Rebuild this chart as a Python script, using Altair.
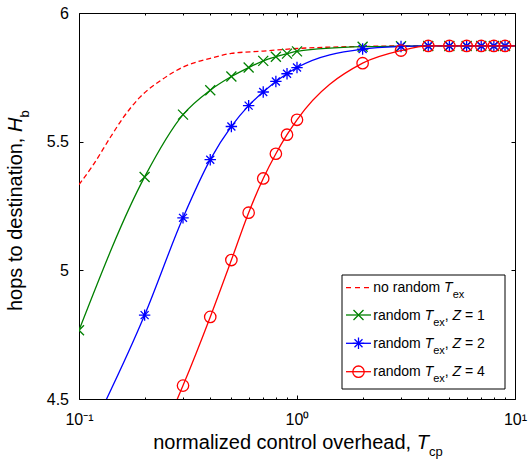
import altair as alt
import pandas as pd

# ---------------- data ----------------
x_vals = [0.1, 0.2, 0.3, 0.4, 0.5, 0.6, 0.7, 0.8, 0.9, 1, 2, 3, 4, 5, 6, 7, 8, 9, 10]
z1_vals = [4.767, 5.363, 5.605, 5.700, 5.753, 5.788, 5.814, 5.830, 5.842, 5.851,
           5.869, 5.871, 5.872, 5.872, 5.872, 5.872, 5.872, 5.872, 5.872]
z2_vals = [4.28, 4.826, 5.204, 5.430, 5.559, 5.640, 5.693, 5.734, 5.764, 5.788,
           5.860, 5.870, 5.872, 5.872, 5.872, 5.872, 5.872, 5.872, 5.872]
z4_vals = [3.70, 4.22, 4.552, 4.819, 5.040, 5.224, 5.357, 5.453, 5.527, 5.585,
           5.805, 5.854, 5.872, 5.872, 5.872, 5.872, 5.872, 5.872, 5.872]
nr_x = [0.1, 0.115, 0.14, 0.16, 0.19, 0.24, 0.3, 0.4, 0.5, 0.7, 1, 2, 3, 4, 5, 6, 7, 8, 9, 10]
nr_y = [5.333, 5.404, 5.52, 5.595, 5.672, 5.741, 5.79, 5.824, 5.843, 5.852, 5.862,
        5.870, 5.872, 5.872, 5.872, 5.872, 5.872, 5.872, 5.872, 5.872]
marker_max_x = 9

x_major = [0.1, 1, 10]
x_minor = [0.2, 0.3, 0.4, 0.5, 0.6, 0.7, 0.8, 0.9, 2, 3, 4, 5, 6, 7, 8, 9]
y_ticks = [4.5, 5, 5.5, 6]

GREEN, BLUE, RED = "#008000", "#0000ff", "#ff0000"
FONT = "Liberation Sans"

X_PATH = "M-1,-1L1,1M-1,1L1,-1"
STAR_PATH = "M-1,0L1,0M0,-1L0,1M-0.7,-0.7L0.7,0.7M-0.7,0.7L0.7,-0.7"

xs = alt.Scale(type="log", domain=[0.1, 10], nice=False)
ys = alt.Scale(domain=[4.5, 6], nice=False, zero=False)

# ---------------- axes (inward ticks via negative offset) ----------------
common = dict(domain=False, grid=False, tickColor="black", tickWidth=1,
              labelColor="black", labelFont=FONT)
ax_bottom = alt.Axis(orient="bottom", values=x_major, tickSize=4, offset=-4,
                     labelExpr="datum.value < 0.5 ? '10\u207b\u00b9' : (datum.value < 5 ? '10\u2070' : '10\u00b9')",
                     labelFontSize=16, labelPadding=12, labelFlush=False, labelOverlap=False, **common)
ax_left = alt.Axis(orient="left", values=y_ticks, format="~g", tickSize=4, offset=-4,
                   labelFontSize=16, labelPadding=10.5, labelFlush=False, labelOverlap=False, **common)
ax_top = alt.Axis(orient="top", values=x_major, tickSize=4, offset=-4, labels=False, **common)
ax_right = alt.Axis(orient="right", values=y_ticks, tickSize=4, offset=-4, labels=False, **common)
ax_bottom_minor = alt.Axis(orient="bottom", values=x_minor, tickSize=2, offset=-2, labels=False, **common)
ax_top_minor = alt.Axis(orient="top", values=x_minor, tickSize=2, offset=-2, labels=False, **common)


def line_layer(xv, yv, color, xaxis=None, yaxis=None, dash=None):
    df = pd.DataFrame({"x": xv, "y": yv})
    kw = dict(color=color, strokeWidth=1.3, clip=True, interpolate="monotone")
    if dash is not None:
        kw["strokeDash"] = dash
    return alt.Chart(df).mark_line(**kw).encode(
        x=alt.X("x:Q", scale=xs, axis=xaxis, title=None),
        y=alt.Y("y:Q", scale=ys, axis=yaxis, title=None),
    )


def marker_layer(xv, yv, color, shape, size):
    df = pd.DataFrame({"x": xv, "y": yv})
    df = df[df["x"] <= marker_max_x]
    return alt.Chart(df).mark_point(shape=shape, size=size, filled=False, color=color,
                                    strokeWidth=1.3, opacity=1, clip=True).encode(
        x=alt.X("x:Q", scale=xs, axis=None, title=None),
        y=alt.Y("y:Q", scale=ys, axis=None, title=None),
    )


# ---------------- text helpers ----------------
W = {" ": 278, ",": 278, "=": 584, "1": 556, "2": 556, "4": 556,
     "a": 556, "b": 556, "c": 500, "d": 556, "e": 556, "h": 556, "i": 222, "l": 222,
     "m": 833, "n": 556, "o": 556, "p": 556, "r": 333, "s": 500, "t": 278, "v": 500,
     "x": 500, "z": 500, "T": 611, "H": 722, "Z": 611}


def tw(s, fs):
    return sum(W.get(c, 556) for c in s) / 1000.0 * fs


dummy = pd.DataFrame({"d": [0]})


def text_layer(txt, x, y, fs, italic=False, align="left", angle=0, dx=0, dy=0):
    return alt.Chart(dummy).mark_text(
        align=align, baseline="alphabetic", fontSize=fs,
        fontStyle="italic" if italic else "normal", font=FONT, color="black",
        angle=angle, dx=dx, dy=dy,
    ).encode(x=alt.value(x), y=alt.value(y), text=alt.value(txt))


layers = []
# data lines (carry the axes)
layers.append(line_layer(nr_x, nr_y, RED, ax_bottom, ax_left, dash=[5, 3]))
layers.append(line_layer(x_vals, z1_vals, GREEN, ax_top, ax_right))
layers.append(marker_layer(x_vals, z1_vals, GREEN, X_PATH, 100))
layers.append(line_layer(x_vals, z2_vals, BLUE, ax_bottom_minor, None))
layers.append(marker_layer(x_vals, z2_vals, BLUE, STAR_PATH, 130))
layers.append(line_layer(x_vals, z4_vals, RED, ax_top_minor, None))
layers.append(marker_layer(x_vals, z4_vals, RED, "circle", 130))

# ---------------- axis titles ----------------
TFS, SFS = 20, 13
xt_x, xt_y = 337.7, 436
layers.append(text_layer("normalized control overhead,", xt_x - tw(" ", TFS), xt_y, TFS, align="right"))
layers.append(text_layer("T", xt_x, xt_y, TFS, italic=True))
layers.append(text_layer("cp", xt_x + tw("T", TFS), xt_y + 6.5, SFS))

yt_x, yt_y = -57, 119
layers.append(text_layer("hops to destination,", yt_x, yt_y, TFS, align="right", angle=270,
                         dx=-tw(" ", TFS)))
layers.append(text_layer("H", yt_x, yt_y, TFS, italic=True, angle=270))
layers.append(text_layer("b", yt_x, yt_y, SFS, angle=270, dx=tw("H", TFS), dy=6.5))

# ---------------- legend ----------------
LFS, LSFS = 14, 11
box = alt.Chart(dummy).mark_rect(fill="white", stroke="black", strokeWidth=1).encode(
    x=alt.value(263), x2=alt.value(426), y=alt.value(262), y2=alt.value(376))
layers.append(box)

row_y = [274.7, 302.0, 330.3, 358.7]
row_colors = [RED, GREEN, BLUE, RED]
row_shapes = [None, X_PATH, STAR_PATH, "circle"]
row_sizes = [0, 100, 130, 130]
row_z = [None, "1", "2", "4"]
line_x1, line_x2, mark_x, text_x = 267, 292, 279.5, 294.3

for i in range(4):
    ry = row_y[i]
    rkw = dict(color=row_colors[i], strokeWidth=1.3)
    if i == 0:
        rkw["strokeDash"] = [5, 4]
    layers.append(alt.Chart(dummy).mark_rule(**rkw).encode(
        x=alt.value(line_x1), x2=alt.value(line_x2), y=alt.value(ry)))
    if row_shapes[i] is not None:
        layers.append(alt.Chart(dummy).mark_point(
            shape=row_shapes[i], size=row_sizes[i], filled=False, color=row_colors[i],
            strokeWidth=1.3, opacity=1).encode(x=alt.value(mark_x), y=alt.value(ry)))
    by = ry + 4.6
    prefix = "no random" if i == 0 else "random"
    layers.append(text_layer(prefix, text_x, by, LFS))
    tx = text_x + tw(prefix + " ", LFS)
    layers.append(text_layer("T", tx, by, LFS, italic=True))
    ex_x = tx + tw("T", LFS)
    layers.append(text_layer("ex", ex_x, by + 6, LSFS))
    if row_z[i] is not None:
        cx = ex_x + tw("ex", LSFS)
        layers.append(text_layer(",", cx, by, LFS))
        zx = cx + tw(", ", LFS)
        layers.append(text_layer("Z", zx, by, LFS, italic=True))
        eqx = zx + tw("Z ", LFS)
        layers.append(text_layer("=", eqx, by, LFS))
        layers.append(text_layer(row_z[i], eqx + tw("= ", LFS), by, LFS))

chart = alt.layer(*layers).resolve_axis(x="independent", y="independent").properties(
    width=436, height=386,
    autosize=alt.AutoSizeParams(type="none"),
    padding={"left": 79, "top": 13, "right": 16, "bottom": 63},
).configure_view(stroke="black", strokeWidth=1).configure_axis(grid=False)

chart.save("out.html", embed_options={"renderer": "svg", "actions": False})
